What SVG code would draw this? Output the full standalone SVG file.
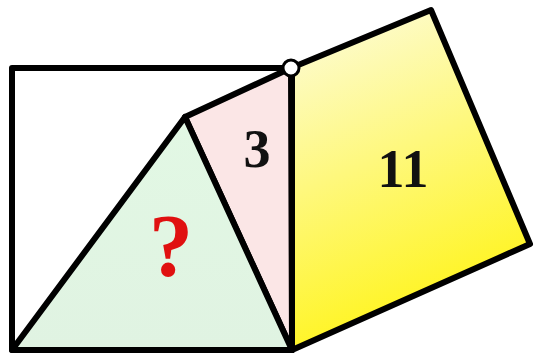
<svg xmlns="http://www.w3.org/2000/svg" width="537" height="359" viewBox="0 0 537 359">
<defs>
<linearGradient id="gy" x1="0" y1="0" x2="0.3" y2="1">
<stop offset="0" stop-color="#fdfce0"/>
<stop offset="1" stop-color="#fff41a"/>
</linearGradient>
<linearGradient id="gg" x1="0" y1="0" x2="0" y2="1">
<stop offset="0" stop-color="#e2f8e4"/>
<stop offset="1" stop-color="#e0f3e2"/>
</linearGradient>
<style>
.e{stroke:#000;stroke-width:6;stroke-linejoin:round;stroke-linecap:round}
.t{font-family:"Liberation Serif",serif;font-weight:bold;text-anchor:middle}
</style>
</defs>
<rect width="537" height="359" fill="#fff"/>
<g id="yellow">
<polygon class="e" points="291,68 431,10 530,244 292,350" fill="url(#gy)"/>
<text class="t" x="403" y="187" font-size="54" fill="#111">11</text>
</g>
<g id="pink">
<polygon class="e" points="185,117 291,68 292,350" fill="#fbe6e6"/>
<text class="t" x="257" y="167" font-size="54" fill="#111">3</text>
</g>
<g id="green">
<polygon class="e" points="12,350 185,117 292,350" fill="url(#gg)"/>
<text class="t" x="171" y="275" font-size="88" fill="#e01010">?</text>
</g>
<g id="square">
<polyline class="e" points="291,68 12,68 12,350 292,350" fill="none"/>
</g>
<g id="connectors">
<line class="e" x1="292" y1="68" x2="292" y2="350"/>
</g>
<g id="pivot">
<circle cx="291" cy="68" r="8" fill="#fff" stroke="#000" stroke-width="3"/>
</g>
</svg>
